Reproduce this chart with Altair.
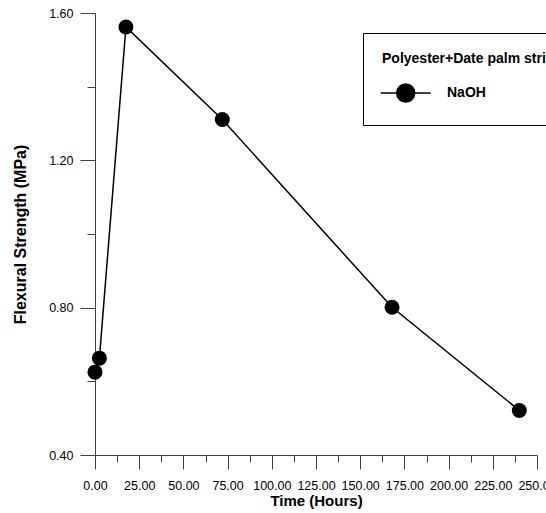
import altair as alt
import pandas as pd

hours = [0, 2.5, 17.5, 72, 168, 240]
strength = [0.625, 0.663, 1.562, 1.311, 0.801, 0.521]
series = ["NaOH"] * len(hours)

x_ticks = [0, 12.5, 25, 37.5, 50, 62.5, 75, 87.5, 100, 112.5, 125, 137.5, 150,
           162.5, 175, 187.5, 200, 212.5, 225, 237.5, 250]
y_ticks = [0.4, 0.6, 0.8, 1.0, 1.2, 1.4, 1.6]

df = pd.DataFrame({"hours": hours, "strength": strength, "series": series})

FONT = "Liberation Sans"
AX = "#404040"

x_axis = alt.Axis(
    title="Time (Hours)", values=x_ticks,
    labelExpr="datum.value % 25 == 0 ? format(datum.value, '.2f') : ''",
    tickSize={"condition": {"test": "datum.value % 25 == 0", "value": 14}, "value": 7},
    labelOverlap=False, labelBound=False, labelFlush=False,
    grid=False, domainColor=AX, tickColor=AX, labelColor="black",
    labelFont=FONT, labelFontSize=12.5, labelPadding=10,
    titleFont=FONT, titleFontSize=15, titleFontWeight="bold", titleColor="black",
    titlePadding=2,
)
y_axis = alt.Axis(
    title="Flexural Strength (MPa)", values=y_ticks,
    labelExpr="round(datum.value * 10) % 4 == 0 ? format(datum.value, '.2f') : ''",
    tickSize={"condition": {"test": "round(datum.value * 10) % 4 == 0", "value": 15}, "value": 8},
    labelOverlap=False, labelBound=False, labelFlush=False,
    grid=False, domainColor=AX, tickColor=AX, labelColor="black",
    labelFont=FONT, labelFontSize=12.5, labelPadding=7,
    titleFont=FONT, titleFontSize=16, titleFontWeight="bold", titleColor="black",
    titlePadding=20,
)

x = alt.X("hours:Q", scale=alt.Scale(domain=[0, 250], nice=False, zero=False), axis=x_axis)
y = alt.Y("strength:Q", scale=alt.Scale(domain=[0.4, 1.6], nice=False, zero=False), axis=y_axis)

line = alt.Chart(df).mark_line(color="black", strokeWidth=1.5, clip=False).encode(x=x, y=y)

legend_path = ("M-2.075,0L10.425,0"
               "M1.925,0A2.25,2.25,0,1,1,6.425,0A2.25,2.25,0,1,1,1.925,0Z")

points = alt.Chart(df).mark_point(filled=True, size=225, opacity=1, clip=False).encode(
    x=x, y=y,
    color=alt.Color("series:N", scale=alt.Scale(range=["black"]), legend=alt.Legend(
        title="Polyester+Date palm strips", orient="none", legendX=268, legendY=20,
        titleFont=FONT, titleFontSize=14, titleFontWeight="bold", titleColor="black",
        titleLimit=500, titlePadding=20,
        labelFont=FONT, labelFontSize=14, labelFontWeight="bold", labelColor="black",
        labelOffset=51, labelLimit=300,
        symbolType=legend_path, symbolSize=64, symbolStrokeColor="black",
        symbolFillColor="black", symbolStrokeWidth=1.5, symbolOpacity=1,
        strokeColor="black", padding=19, fillColor="white",
    )),
)

chart = alt.layer(line, points).properties(
    width=442, height=442,
    autosize=alt.AutoSizeParams(type="none"),
    padding={"left": 95, "top": 13, "right": 9, "bottom": 58},
    background="white",
).configure_view(stroke=None)

chart.save("out.html", embed_options={"renderer": "svg", "actions": False})
